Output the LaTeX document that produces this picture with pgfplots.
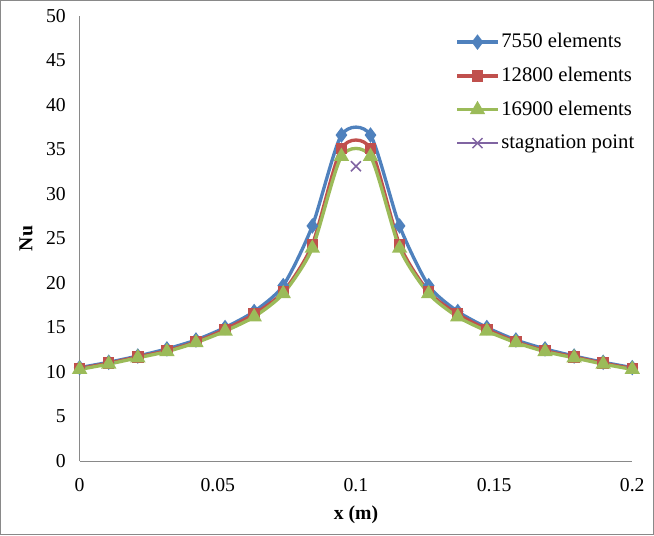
\documentclass[border=0pt]{standalone}
\usepackage{pgfplots}
\pgfplotsset{compat=1.18}
\usepackage{fontspec}
\setmainfont{Liberation Serif}
\definecolor{cblue}{HTML}{4F81BD}
\definecolor{cred}{HTML}{C0504D}
\definecolor{cgreen}{HTML}{9BBB59}
\definecolor{cpurple}{HTML}{8064A2}
\definecolor{axgray}{HTML}{898989}
\begin{document}
\fontsize{19.5bp}{23bp}\selectfont
\begin{tikzpicture}
\begin{axis}[
  scale only axis,
  width=547bp, height=441bp,
  xmin=0, xmax=0.2, ymin=0, ymax=50,
  xtick={0,0.05,0.1,0.15,0.2},
  xticklabels={0,0.05,0.1,0.15,0.2},
  ytick={0,5,10,15,20,25,30,35,40,45,50},
  axis x line=bottom, axis y line=left,
  axis line style={axgray, line width=1bp, -},
  major tick length=0pt,
  tick style={draw=none},
  /pgf/number format/assume math mode=true,
  ticklabel style={font=\fontsize{19.5bp}{23bp}\selectfont},
  xticklabel style={yshift=-10bp},
  yticklabel style={xshift=-7bp},
  xlabel={\textbf{x (m)}},
  ylabel={\textbf{Nu}},
  xlabel style={at={(axis description cs:0.5,-0.12)}, anchor=center},
  ylabel style={at={(axis description cs:-0.097,0.5)}, anchor=center},
  clip=false,
  legend style={draw=none, fill=none, at={(rel axis cs:0.68,0.965)}, anchor=north west,
    font=\fontsize{20.5bp}{24bp}\selectfont, row sep=12.3bp, inner sep=0pt},
  legend cell align=left,
  legend image code/.code={\draw[#1] (0bp,0bp) -- (40bp,0bp);
    \draw[#1, only marks] plot coordinates {(20bp,0bp)};},
]
\draw[axgray, line width=1bp] (rel axis cs:-0.1432,-0.1655) rectangle (rel axis cs:1.0384,1.034);
\addplot[cblue, line width=3.3bp, smooth, tension=0.42, mark=diamond*, mark size=5bp, mark options={solid}] coordinates {
(0,10.5) (0.010526,11.1) (0.021053,11.8) (0.031579,12.6) (0.042105,13.6) (0.052632,15.0) (0.063158,16.8) (0.073684,19.7) (0.084211,26.4) (0.094737,36.6)
(0.105263,36.6) (0.115789,26.4) (0.126316,19.7) (0.136842,16.8) (0.147368,15.0) (0.157895,13.6) (0.168421,12.6) (0.178947,11.8) (0.189474,11.1) (0.2,10.5)};
\addlegendentry{7550 elements}
\addplot[cred, line width=3.3bp, smooth, tension=0.42, mark=square*, mark size=4bp] coordinates {
(0,10.4) (0.010526,11.0) (0.021053,11.7) (0.031579,12.4) (0.042105,13.4) (0.052632,14.8) (0.063158,16.5) (0.073684,19.0) (0.084211,24.3) (0.094737,35.1)
(0.105263,35.1) (0.115789,24.3) (0.126316,19.0) (0.136842,16.5) (0.147368,14.8) (0.157895,13.4) (0.168421,12.4) (0.178947,11.7) (0.189474,11.0) (0.2,10.4)};
\addlegendentry{12800 elements}
\addplot[cgreen, line width=3.3bp, smooth, tension=0.42, mark=triangle*, mark size=5.5bp] coordinates {
(0,10.3) (0.010526,10.9) (0.021053,11.6) (0.031579,12.3) (0.042105,13.3) (0.052632,14.6) (0.063158,16.2) (0.073684,18.8) (0.084211,23.9) (0.094737,34.2)
(0.105263,34.2) (0.115789,23.9) (0.126316,18.8) (0.136842,16.2) (0.147368,14.6) (0.157895,13.3) (0.168421,12.3) (0.178947,11.6) (0.189474,10.9) (0.2,10.3)};
\addlegendentry{16900 elements}
\addplot[cpurple, line width=1.5bp, mark=x, mark size=7bp] coordinates {(0.1,33.1)};
\addlegendentry{stagnation point}
\end{axis}
\end{tikzpicture}
\end{document}
